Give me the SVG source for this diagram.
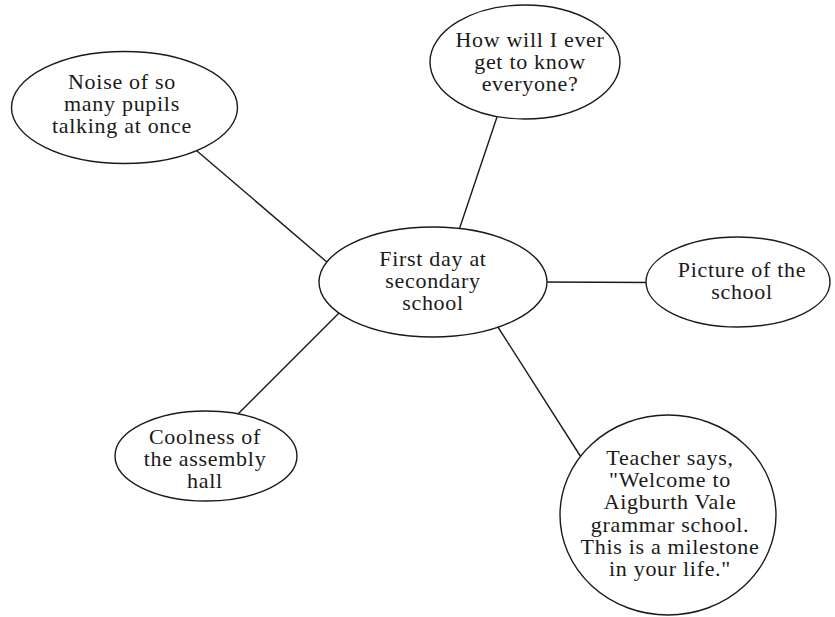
<svg xmlns="http://www.w3.org/2000/svg" width="835" height="617" viewBox="0 0 835 617">
  <style>
    .bubble { fill: #ffffff; stroke: #1a1a1a; stroke-width: 1.4; }
    .link { stroke: #1a1a1a; stroke-width: 1.4; fill: none; }
    text { font-family: "Liberation Serif", "Times New Roman", serif; font-size: 22px; fill: #1a1a1a; text-anchor: middle; letter-spacing: 0.7px; }
  </style>
  <rect width="835" height="617" fill="#ffffff"/>

  <!-- spokes from the central topic; ends tuck under the bubbles -->
  <g id="connectors">
    <line class="link" x1="190" y1="145" x2="335" y2="269"/>
    <line class="link" x1="498" y1="114" x2="458" y2="233"/>
    <line class="link" x1="540" y1="282" x2="652" y2="282.5"/>
    <line class="link" x1="342" y1="310" x2="234" y2="418"/>
    <line class="link" x1="496" y1="324" x2="586" y2="465"/>
  </g>

  <g id="center">
    <ellipse class="bubble" cx="433" cy="282" rx="114" ry="55"/>
    <text x="433" y="266">First day at</text>
    <text x="433" y="288">secondary</text>
    <text x="433" y="310">school</text>
  </g>

  <g id="noise">
    <ellipse class="bubble" cx="124.5" cy="107.5" rx="113" ry="56"/>
    <text x="122" y="89">Noise of so</text>
    <text x="122" y="111">many pupils</text>
    <text x="122" y="133">talking at once</text>
  </g>

  <g id="know-everyone">
    <ellipse class="bubble" cx="525" cy="62" rx="95" ry="57"/>
    <text x="530" y="47">How will I ever</text>
    <text x="530" y="69">get to know</text>
    <text x="530" y="91">everyone?</text>
  </g>

  <g id="picture">
    <ellipse class="bubble" cx="738" cy="282" rx="92" ry="45"/>
    <text x="742" y="277">Picture of the</text>
    <text x="742" y="299">school</text>
  </g>

  <g id="coolness">
    <ellipse class="bubble" cx="206" cy="456" rx="91" ry="45"/>
    <text x="205" y="444">Coolness of</text>
    <text x="205" y="466">the assembly</text>
    <text x="205" y="488">hall</text>
  </g>

  <g id="teacher">
    <ellipse class="bubble" cx="668" cy="515" rx="108" ry="100"/>
    <text x="670" y="465">Teacher says,</text>
    <text x="670" y="487">"Welcome to</text>
    <text x="670" y="509">Aigburth Vale</text>
    <text x="670" y="532">grammar school.</text>
    <text x="670" y="554">This is a milestone</text>
    <text x="670" y="576">in your life."</text>
  </g>
</svg>
